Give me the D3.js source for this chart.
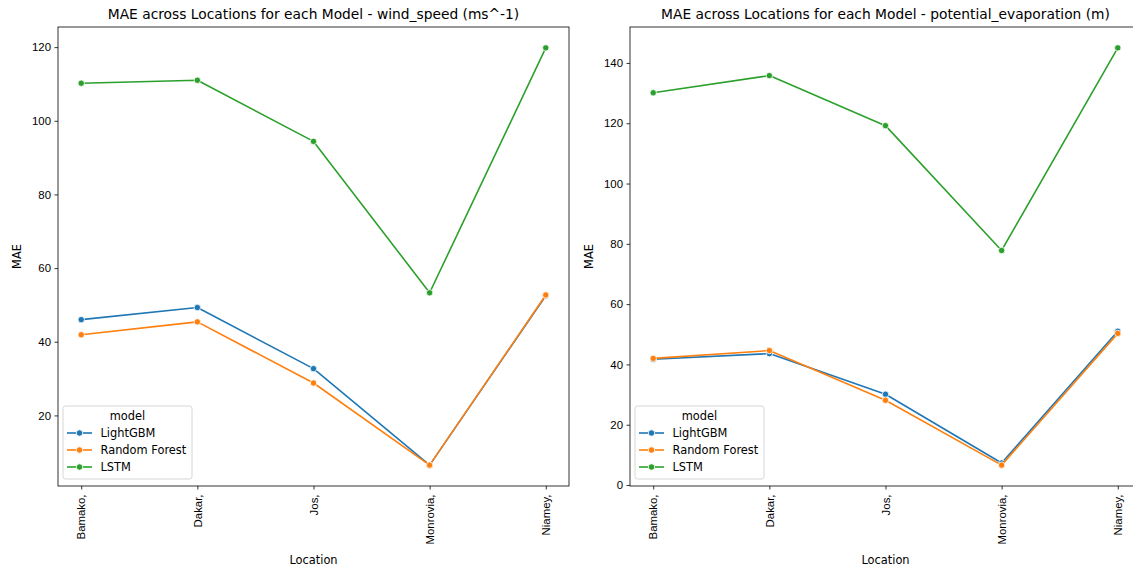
<!DOCTYPE html>
<html>
<head>
<meta charset="utf-8">
<script src="https://cdn.jsdelivr.net/npm/d3@7"></script>
<style>
  body { margin: 0; background: #fff; }
  svg { display: block; font-family: "DejaVu Sans", sans-serif; }
</style>
</head>
<body>
<svg id="chart" width="1133" height="569"></svg>
<script>
// Locations on the x axis
const locations = ["Bamako,", "Dakar,", "Jos,", "Monrovia,", "Niamey,"];
const models = ["LightGBM", "Random Forest", "LSTM"];
const modelColors = ["#1f77b4", "#ff7f0e", "#2ca02c"];

// MAE per location – wind speed
const windLightGBM = [46.0, 49.3, 32.7, 6.5, 52.5];
const windRandomForest = [41.9, 45.4, 28.8, 6.5, 52.7];
const windLSTM = [110.2, 111.0, 94.4, 53.3, 119.8];

// MAE per location – potential evaporation
const evapLightGBM = [41.7, 43.6, 30.1, 7.3, 51.0];
const evapRandomForest = [42.0, 44.6, 28.1, 6.6, 50.3];
const evapLSTM = [130.1, 135.8, 119.2, 77.8, 145.0];

const windTicks = [20, 40, 60, 80, 100, 120];
const evapTicks = [0, 20, 40, 60, 80, 100, 120, 140];

const panels = [
  { title: "MAE across Locations for each Model - wind_speed (ms^-1)",
    series: [windLightGBM, windRandomForest, windLSTM], ticks: windTicks,
    x0: 58, y0: 27 },
  { title: "MAE across Locations for each Model - potential_evaporation (m)",
    series: [evapLightGBM, evapRandomForest, evapLSTM], ticks: evapTicks,
    x0: 630, y0: 27 }
];

const W = 511, H = 459;
const FS = "11.4px";
const svg = d3.select("#chart");

panels.forEach(p => {
  const g = svg.append("g").attr("transform", `translate(${p.x0},${p.y0})`);
  const all = p.series.flat();
  const lo = d3.min(all), hi = d3.max(all), pad = (hi - lo) * 0.05;

  const x = d3.scaleLinear().domain([-0.2, locations.length - 1 + 0.2]).range([0, W]);
  const y = d3.scaleLinear().domain([lo - pad, hi + pad]).range([H, 0]);

  // Axes
  const xAxis = d3.axisBottom(x).tickValues(d3.range(locations.length))
    .tickFormat(i => locations[i]).tickSize(3.5).tickPadding(3.5);
  const yAxis = d3.axisLeft(y).tickValues(p.ticks).tickSize(3.5).tickPadding(3.5);

  const gx = g.append("g").attr("transform", `translate(0,${H})`).call(xAxis);
  gx.selectAll("text")
    .attr("transform", "rotate(-90)")
    .attr("x", -8.5).attr("y", 0).attr("dy", "0.32em")
    .style("text-anchor", "end");
  const gy = g.append("g").call(yAxis);

  [gx, gy].forEach(a => {
    a.select(".domain").remove();
    a.selectAll("text").attr("fill", "#000").style("font-size", FS);
    a.selectAll("line").attr("stroke", "#000").attr("stroke-width", 0.8);
  });

  // Lines and markers
  const line = d3.line().x((d, i) => x(i)).y(d => y(d));
  p.series.forEach((s, k) => {
    g.append("path").datum(s)
      .attr("fill", "none").attr("stroke", modelColors[k])
      .attr("stroke-width", 1.6).attr("stroke-linejoin", "round")
      .attr("stroke-linecap", "round").attr("d", line);
    g.selectAll(null).data(s).enter().append("circle")
      .attr("cx", (d, i) => x(i)).attr("cy", d => y(d)).attr("r", 3.2)
      .attr("fill", modelColors[k]).attr("stroke", "#fff").attr("stroke-width", 0.8);
  });

  // Frame
  g.append("rect").attr("width", W).attr("height", H)
    .attr("fill", "none").attr("stroke", "#000").attr("stroke-width", 0.8);

  // Title and axis labels
  g.append("text").attr("x", W / 2).attr("y", -8).attr("text-anchor", "middle")
    .style("font-size", "13.8px").text(p.title);
  g.append("text").attr("x", x(2)).attr("y", H + 74).attr("dy", "0.35em")
    .attr("text-anchor", "middle").style("font-size", FS).text("Location");
  g.append("text").attr("transform", `translate(${-41},${H / 2}) rotate(-90)`)
    .attr("dy", "0.35em").attr("text-anchor", "middle").style("font-size", FS).text("MAE");

  // Legend
  const lg = g.append("g").attr("transform", `translate(5,${H - 80})`);
  lg.append("rect").attr("width", 129).attr("height", 73).attr("rx", 2.5)
    .attr("fill", "#fff").attr("fill-opacity", 0.8)
    .attr("stroke", "#cccccc").attr("stroke-width", 0.8);
  lg.append("text").attr("x", 64.5).attr("y", 10).attr("dy", "0.35em")
    .attr("text-anchor", "middle").style("font-size", FS).text("model");
  models.forEach((m, k) => {
    const yy = 27 + k * 17;
    lg.append("line").attr("x1", 4).attr("x2", 29).attr("y1", yy).attr("y2", yy)
      .attr("stroke", modelColors[k]).attr("stroke-width", 1.6);
    lg.append("circle").attr("cx", 16.5).attr("cy", yy).attr("r", 3.2)
      .attr("fill", modelColors[k]).attr("stroke", "#fff").attr("stroke-width", 0.8);
    lg.append("text").attr("x", 37.5).attr("y", yy).attr("dy", "0.35em")
      .style("font-size", FS).text(m);
  });
});
</script>
</body>
</html>
